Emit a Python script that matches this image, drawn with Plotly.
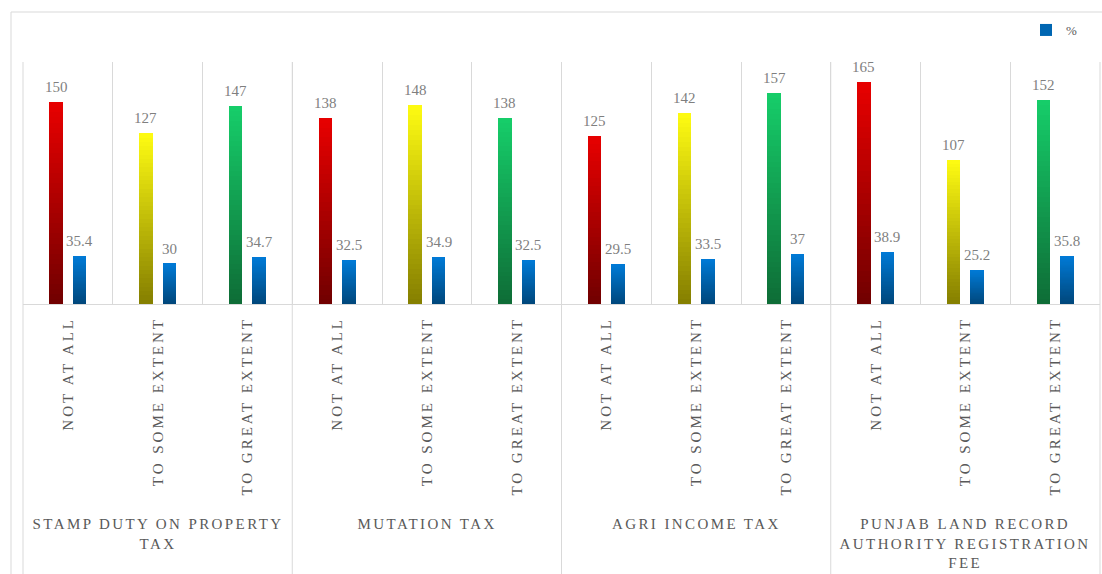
import plotly.graph_objects as go

# ---- data ----
groups = [
    "STAMP DUTY ON PROPERTY<br>TAX",
    "MUTATION TAX",
    "AGRI INCOME TAX",
    "PUNJAB LAND RECORD<br>AUTHORITY REGISTRATION<br>FEE",
]
responses = ["NOT AT ALL", "TO SOME EXTENT", "TO GREAT EXTENT"]
categories = responses * len(groups)
counts = [150, 127, 147, 138, 148, 138, 125, 142, 157, 165, 107, 152]
percents = [35.4, 30, 34.7, 32.5, 34.9, 32.5, 29.5, 33.5, 37, 38.9, 25.2, 35.8]
pct_name = "%"

# ---- style ----
W, H = 1102, 574
PLOT_L, PLOT_R, PLOT_T, PLOT_B = 23, 1100, 62, 304
X_MIN, X_MAX = -0.5, len(categories) - 0.5
Y_MAX = 180
BAR_W = 0.15
BAR_SHIFT = 0.13
N_SEG = 40
GRID = "#D9D9D9"
SERIF = "Liberation Serif"
LABEL_GREY = "#7F7F7F"
TEXT_GREY = "#595959"

# gradient end colours (bottom, top) per response
RESP_GRAD = {
    "NOT AT ALL": ((112, 0, 0), (232, 0, 0)),
    "TO SOME EXTENT": ((132, 126, 0), (255, 252, 18)),
    "TO GREAT EXTENT": ((14, 108, 54), (22, 206, 106)),
}
PCT_GRAD = ((0, 70, 122), (0, 122, 214))


def lerp(c0, c1, t):
    return "rgb(%d,%d,%d)" % tuple(round(a + (b - a) * t) for a, b in zip(c0, c1))


def px_to_paper_y(py):
    return (PLOT_B - py) / (PLOT_B - PLOT_T)


def px_to_paper_x(px):
    return (px - PLOT_L) / (PLOT_R - PLOT_L)


def data_to_paper_x(x):
    return (x - X_MIN) / (X_MAX - X_MIN)


idx = list(range(len(categories)))
x_count = [i - BAR_SHIFT for i in idx]
x_pct = [i + BAR_SHIFT for i in idx]

fig = go.Figure()

# gradient bars built from stacked thin slices of each value
for k in range(N_SEG):
    t = (k + 0.5) / N_SEG
    fig.add_trace(go.Bar(
        x=x_count,
        y=[v / N_SEG for v in counts],
        base=[v * k / N_SEG for v in counts],
        width=BAR_W,
        marker=dict(color=[lerp(*RESP_GRAD[c], t) for c in categories], line_width=0),
        showlegend=False,
        hoverinfo="skip",
    ))
legend_seg = int(N_SEG * 0.6)
for k in range(N_SEG):
    t = (k + 0.5) / N_SEG
    fig.add_trace(go.Bar(
        x=x_pct,
        y=[v / N_SEG for v in percents],
        base=[v * k / N_SEG for v in percents],
        width=BAR_W,
        marker=dict(color=lerp(*PCT_GRAD, t), line_width=0),
        name=pct_name,
        showlegend=(k == legend_seg),
        hoverinfo="skip",
    ))

annotations = []
# value labels
for xs, vals in ((x_count, counts), (x_pct, percents)):
    for x, v in zip(xs, vals):
        annotations.append(dict(
            x=x, y=v, xref="x", yref="y", text=f"{v:g}", showarrow=False,
            yanchor="bottom", yshift=5,
            font=dict(family=SERIF, size=15, color=LABEL_GREY),
        ))
# group labels
for g, name in enumerate(groups):
    annotations.append(dict(
        x=g * len(responses) + (len(responses) - 1) / 2, xref="x",
        y=px_to_paper_y(514), yref="paper", yanchor="top",
        text=name, showarrow=False, align="center",
        font=dict(family=SERIF, size=15, color=TEXT_GREY),
    ))

shapes = [
    # outer frame
    dict(type="rect", xref="paper", yref="paper",
         x0=px_to_paper_x(11), x1=px_to_paper_x(1130),
         y0=px_to_paper_y(620), y1=px_to_paper_y(12),
         line=dict(color=GRID, width=1), layer="below"),
]
# group dividers running down through the label area
for b in range(len(groups) + 1):
    xb = X_MIN + b * len(responses)
    shapes.append(dict(
        type="line", xref="paper", yref="paper",
        x0=data_to_paper_x(xb), x1=data_to_paper_x(xb),
        y0=1, y1=px_to_paper_y(620),
        line=dict(color=GRID, width=1), layer="below",
    ))

fig.update_layout(
    width=W, height=H,
    margin=dict(l=PLOT_L, r=W - PLOT_R, t=PLOT_T, b=H - PLOT_B, autoexpand=False),
    paper_bgcolor="white", plot_bgcolor="white",
    barmode="overlay",
    bargap=0,
    showlegend=True,
    legend=dict(
        x=px_to_paper_x(1026), y=px_to_paper_y(15), xanchor="left", yanchor="top",
        font=dict(family=SERIF, size=13, color=TEXT_GREY),
        bgcolor="rgba(0,0,0,0)", borderwidth=0,
    ),
    xaxis=dict(
        range=[X_MIN, X_MAX],
        tickmode="array", tickvals=idx, ticktext=categories,
        tickangle=-90, ticks="", ticklabelstandoff=6,
        tickfont=dict(family=SERIF, size=15, color=TEXT_GREY),
        showgrid=False, zeroline=False,
        showline=True, linecolor=GRID, linewidth=1,
        minor=dict(tickvals=[X_MIN + i for i in range(len(categories) + 1)],
                   showgrid=True, gridcolor=GRID, gridwidth=1, ticks=""),
        fixedrange=True,
    ),
    yaxis=dict(
        range=[0, Y_MAX], visible=False, showgrid=False, zeroline=False,
        fixedrange=True,
    ),
    annotations=annotations,
    shapes=shapes,
)

# letter-spaced capitals for the axis and group labels
post = """
var gd = document.getElementById('{plot_id}');
gd.querySelectorAll('.xtick text').forEach(function(t){
  t.style.letterSpacing = '3px';
});
gd.querySelectorAll('.annotation-text').forEach(function(t){
  if (/[A-Z]/.test(t.textContent)) { t.style.letterSpacing = '2.4px'; }
});
"""

fig.write_html("out.html", post_script=post, config={"displayModeBar": False})
